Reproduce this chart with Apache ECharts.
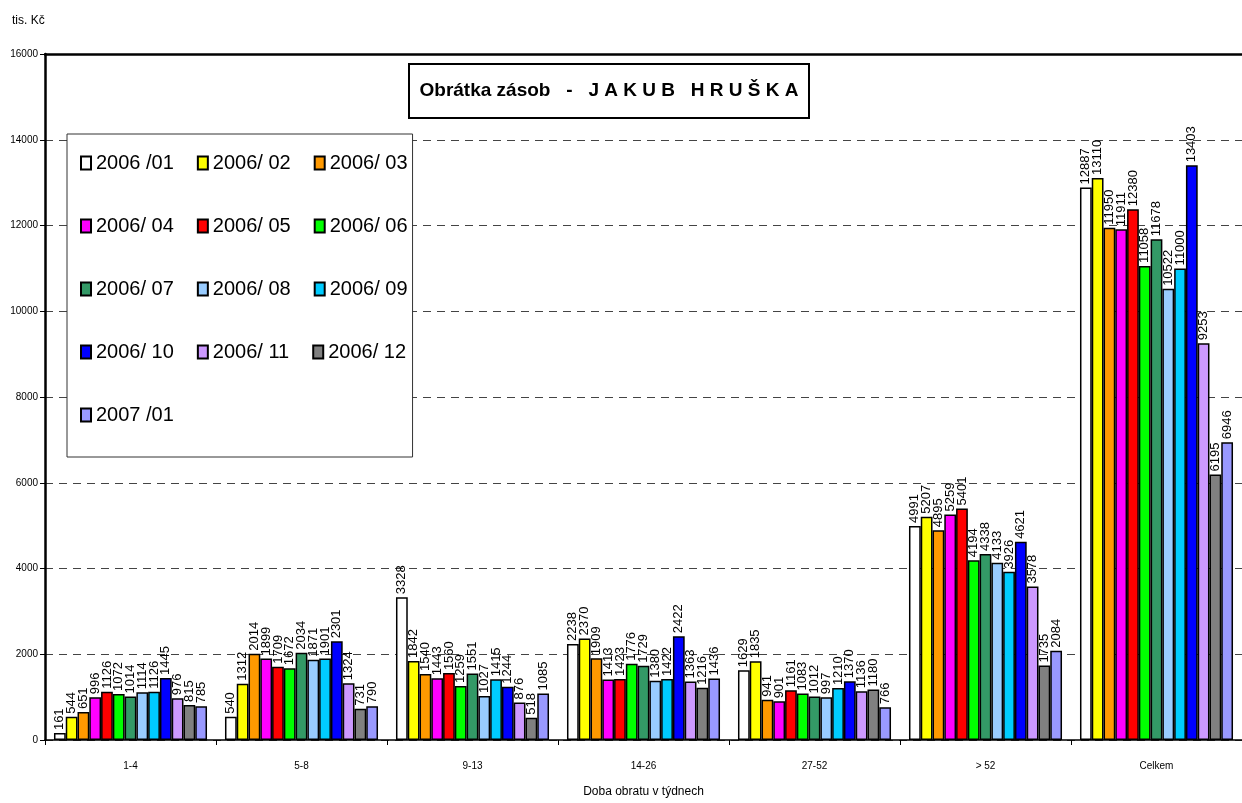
<!DOCTYPE html>
<html><head><meta charset="utf-8">
<script src="https://cdn.jsdelivr.net/npm/echarts@6/dist/echarts.min.js"></script>
<style>html,body{margin:0;padding:0;background:#fff}#c{width:1242px;height:803px}</style>
</head><body><div id="c"></div>
<script>
const categories = ['1-4', '5-8', '9-13', '14-26', '27-52', '> 52', 'Celkem'];
const yTicks = [0, 2000, 4000, 6000, 8000, 10000, 12000, 14000, 16000];
const seriesNames = ['2006 /01','2006/ 02','2006/ 03','2006/ 04','2006/ 05','2006/ 06','2006/ 07','2006/ 08','2006/ 09','2006/ 10','2006/ 11','2006/ 12','2007 /01'];
const s200601 = [161, 540, 3328, 2238, 1629, 4991, 12887];
const s200602 = [544, 1312, 1842, 2370, 1835, 5207, 13110];
const s200603 = [651, 2014, 1540, 1909, 941, 4895, 11950];
const s200604 = [996, 1899, 1443, 1413, 901, 5259, 11911];
const s200605 = [1126, 1709, 1560, 1423, 1161, 5401, 12380];
const s200606 = [1072, 1672, 1259, 1776, 1083, 4194, 11058];
const s200607 = [1014, 2034, 1551, 1729, 1012, 4338, 11678];
const s200608 = [1114, 1871, 1027, 1380, 997, 4133, 10522];
const s200609 = [1126, 1901, 1415, 1422, 1210, 3926, 11000];
const s200610 = [1445, 2301, 1244, 2422, 1370, 4621, 13403];
const s200611 = [976, 1324, 876, 1363, 1136, 3578, 9253];
const s200612 = [815, 731, 518, 1216, 1180, 1735, 6195];
const s200701 = [785, 790, 1085, 1436, 766, 2084, 6946];
const seriesValues = [s200601,s200602,s200603,s200604,s200605,s200606,s200607,s200608,s200609,s200610,s200611,s200612,s200701];
const colors = ['#FFFFFF','#FFFF00','#FF9900','#FF00FF','#FF0000','#00FF00','#339966','#99CCFF','#00CCFF','#0000FF','#CC99FF','#808080','#9999FF'];

const SANS = "'Liberation Sans', Arial, sans-serif";

const chart = echarts.init(document.getElementById('c'), null, {renderer: 'canvas'});
const series = seriesNames.map((n, i) => ({
  name: n, type: 'bar', data: seriesValues[i], barGap: '0%', barCategoryGap: '10.5%',
  itemStyle: {color: colors[i], borderColor: '#000', borderWidth: 1.5},
  label: {show: true, position: 'top', rotate: 90, align: 'left', verticalAlign: 'middle', distance: 3,
          color: '#000', fontSize: 13, fontFamily: SANS},
  emphasis: {disabled: true}, animation: false
}));
chart.setOption({
  animation: false,
  grid: {left: 45, right: 0, top: 54, bottom: 58},
  title: {text: 'tis. Kč', left: 7, top: 10, textStyle: {fontSize: 12, fontWeight: 'normal', color: '#000', fontFamily: SANS}},
  legend: {
    data: seriesNames, left: 67, top: 134, width: 330, orient: 'horizontal', icon: 'rect',
    itemWidth: 10, itemHeight: 13, itemGap: 23,
    padding: [9, 5, 22, 13], backgroundColor: '#fff', borderColor: '#333', borderWidth: 1,
    textStyle: {fontSize: 20, color: '#000', fontFamily: SANS, lineHeight: 40},
    selectedMode: false
  },
  xAxis: [{
    type: 'category', data: categories, position: 'bottom',
    axisLine: {lineStyle: {color: '#000', width: 1.5}},
    axisTick: {show: true, length: 5, lineStyle: {color: '#000'}},
    axisLabel: {fontSize: 10, color: '#000', margin: 21, fontFamily: SANS},
    name: 'Doba obratu v týdnech', nameLocation: 'middle', nameGap: 46,
    nameTextStyle: {fontSize: 12, color: '#000', fontFamily: SANS}
  }, {
    type: 'category', data: categories, position: 'top',
    axisLine: {show: true, lineStyle: {color: '#000', width: 2.5}},
    axisTick: {show: false}, axisLabel: {show: false}
  }],
  yAxis: {
    type: 'value', min: 0, max: 16000, interval: 2000,
    axisLine: {show: true, lineStyle: {color: '#000', width: 2.5}},
    axisTick: {show: true, length: 5, lineStyle: {color: '#000'}},
    axisLabel: {fontSize: 10, color: '#000', margin: 7, fontFamily: SANS,
                formatter: v => yTicks.includes(v) ? String(v) : ''},
    splitLine: {show: true, lineStyle: {color: '#444', type: [8, 6], width: 1}}
  },
  graphic: [{
    type: 'group', left: 408, top: 63, z: 100,
    children: [
      {type: 'rect', shape: {x: 0, y: 0, width: 400, height: 54}, style: {fill: '#fff', stroke: '#000', lineWidth: 2}},
      {type: 'text', x: 200, y: 27, style: {text: 'Obrátka zásob   -   J A K U B   H R U Š K A', fill: '#000',
        font: "bold 19px " + SANS, textAlign: 'center', textVerticalAlign: 'middle'}}
    ]
  }],
  series: series
});
</script></body></html>
